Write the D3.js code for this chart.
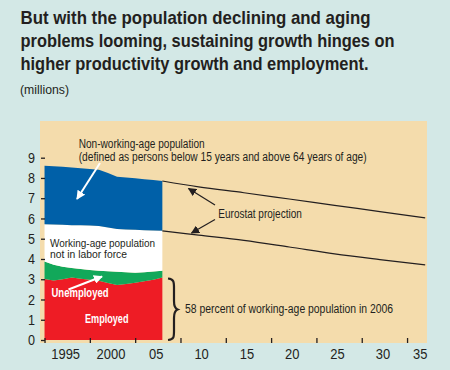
<!DOCTYPE html>
<html>
<head>
<meta charset="utf-8">
<script src="https://cdn.jsdelivr.net/npm/d3@7"></script>
<style>
  body { margin: 0; background: #d3e8e6; }
  svg { display: block; }
  text { font-family: "Liberation Sans", Arial, sans-serif; fill: #231f20; }
</style>
</head>
<body>
<script>
let w = 450;
let h = 370;

// history, millions
let years = [1993, 1994, 1995, 1996, 1997, 1998, 1999, 2000, 2001, 2002, 2003, 2004, 2005, 2006];
let employed   = [3.01, 2.94, 3.00, 3.08, 3.02, 2.97, 2.92, 2.82, 2.72, 2.76, 2.83, 2.90, 2.97, 3.08];
let unemployed = [0.86, 0.77, 0.62, 0.48, 0.48, 0.49, 0.50, 0.58, 0.65, 0.59, 0.49, 0.44, 0.41, 0.34];
let notInLabor = [1.84, 1.99, 2.07, 2.11, 2.16, 2.19, 2.21, 2.15, 2.11, 2.11, 2.12, 2.08, 2.02, 1.97];
let nonWorking = [2.89, 2.88, 2.86, 2.85, 2.82, 2.79, 2.77, 2.69, 2.58, 2.56, 2.54, 2.52, 2.50, 2.46];

// Eurostat projection
let projYears = [2006, 2010, 2015, 2020, 2025, 2030, 2035];
let projTotal = [7.85, 7.56, 7.27, 6.96, 6.65, 6.34, 6.03];
let projWorking = [5.39, 5.18, 4.92, 4.59, 4.25, 3.97, 3.71];

let yTicks = [0, 1, 2, 3, 4, 5, 6, 7, 8, 9];
let xTicks = [1993, 1998, 2003, 2008, 2013, 2018, 2023, 2028, 2033];
let xLabels = [1995, 2000, 2005, 2010, 2015, 2020, 2025, 2030, 2035];
let xLabelText = ["1995", "2000", "05", "10", "15", "20", "25", "30", "35"];

let keys = ["employed", "unemployed", "notInLabor", "nonWorking"];
let colors = ["#ee1c25", "#12a85a", "#ffffff", "#0060a8"];

let svg = d3.select("body")
            .append("svg")
            .attr("width", w)
            .attr("height", h);

// squeeze a text to the width it has in the print version
function squeeze(sel, len) {
  sel.attr("textLength", len).attr("lengthAdjust", "spacingAndGlyphs");
}

// title
let title = ["But with the population declining and aging",
             "problems looming, sustaining growth hinges on",
             "higher productivity growth and employment."];
let titleLen = [350, 374, 348];
svg.selectAll(".title")
   .data(title)
   .enter()
   .append("text")
   .attr("class", "title")
   .attr("x", 20.5)
   .attr("y", (d, i) => 24 + i * 23)
   .style("font-size", "18.5px")
   .style("font-weight", "bold")
   .text(d => d)
   .each(function(d, i) { squeeze(d3.select(this), titleLen[i]); });

svg.append("text")
   .attr("x", 20)
   .attr("y", 94)
   .style("font-size", "12px")
   .text("(millions)")
   .call(squeeze, 49);

// plot panel
let pLeft = 40, pRight = 427, pTop = 121, pBottom = 343;
svg.append("rect")
   .attr("x", pLeft)
   .attr("y", pTop)
   .attr("width", pRight - pLeft)
   .attr("height", pBottom - pTop)
   .attr("fill", "#f4dcac");

let x = d3.scaleLinear()
          .domain([1992.5, 2035.2])
          .range([pLeft, pRight]);

let y = d3.scaleLinear()
          .domain([0, 9])
          .range([340, 157.7]);

let table = years.map((yr, i) => ({
  year: yr,
  employed: employed[i],
  unemployed: unemployed[i],
  notInLabor: notInLabor[i],
  nonWorking: nonWorking[i]
}));

let series = d3.stack().keys(keys)(table);

let area = d3.area()
             .x(d => x(d.data.year))
             .y0(d => y(d[0]))
             .y1(d => y(d[1]));

svg.selectAll(".layer")
   .data(series)
   .enter()
   .append("path")
   .attr("class", "layer")
   .attr("d", area)
   .attr("fill", (d, i) => colors[i]);

// projection lines
let line = d3.line()
             .x(d => x(d[0]))
             .y(d => y(d[1]))
             .curve(d3.curveMonotoneX);

[projTotal, projWorking].forEach(vals => {
  svg.append("path")
     .attr("d", line(projYears.map((yr, i) => [yr, vals[i]])))
     .attr("fill", "none")
     .attr("stroke", "#231f20")
     .attr("stroke-width", 1.2);
});

// axes
let yAxis = d3.axisLeft(y)
              .tickValues(yTicks)
              .tickSize(-4)
              .tickPadding(6);
let gy = svg.append("g")
            .attr("transform", "translate(" + (pLeft + 1) + ",0)")
            .call(yAxis);
gy.select(".domain").remove();
gy.selectAll("line").attr("stroke", "#231f20").attr("stroke-width", 1.3);
gy.selectAll("text")
  .style("font-family", "'Liberation Sans', Arial, sans-serif")
  .style("font-size", "14.5px")
  .attr("fill", "#231f20")
  .attr("textLength", 7)
  .attr("lengthAdjust", "spacingAndGlyphs");

let xAxis = d3.axisBottom(x)
              .tickValues(xTicks)
              .tickSize(-5)
              .tickFormat("");
let gx = svg.append("g")
            .attr("transform", "translate(0," + pBottom + ")")
            .call(xAxis);
gx.select(".domain").remove();
gx.selectAll("line").attr("stroke", "#231f20").attr("stroke-width", 1.3);

let xLab = d3.axisBottom(x)
             .tickValues(xLabels)
             .tickSize(0)
             .tickPadding(6)
             .tickFormat((d, i) => xLabelText[i]);
let gl = svg.append("g")
            .attr("transform", "translate(2.5," + pBottom + ")")
            .call(xLab);
gl.select(".domain").remove();
gl.selectAll("text")
  .style("font-family", "'Liberation Sans', Arial, sans-serif")
  .style("font-size", "14.5px")
  .attr("fill", "#231f20")
  .attr("textLength", function() { return this.textContent.length * 7.2; })
  .attr("lengthAdjust", "spacingAndGlyphs");
gl.selectAll(".tick")
  .filter(d => d === 2035)
  .select("text")
  .attr("text-anchor", "end")
  .attr("x", pRight - x(2035) - 2.5);

// arrow markers
let defs = svg.append("defs");
[["white", "#ffffff"], ["black", "#231f20"]].forEach(m => {
  defs.append("marker")
      .attr("id", "head-" + m[0])
      .attr("viewBox", "0 0 10 10")
      .attr("refX", 9)
      .attr("refY", 5)
      .attr("markerWidth", m[0] === "white" ? 4.5 : 7)
      .attr("markerHeight", m[0] === "white" ? 4.5 : 7)
      .attr("markerUnits", "strokeWidth")
      .attr("orient", "auto")
      .append("path")
      .attr("d", "M0,0L10,5L0,10z")
      .attr("fill", m[1]);
});

function arrow(x1, y1, x2, y2, col, sw) {
  svg.append("line")
     .attr("x1", x1).attr("y1", y1)
     .attr("x2", x2).attr("y2", y2)
     .attr("stroke", col === "white" ? "#ffffff" : "#231f20")
     .attr("stroke-width", sw)
     .attr("marker-end", "url(#head-" + col + ")");
}

arrow(100, 163, 77, 199, "white", 2);
arrow(68.5, 289.5, 102, 276.5, "white", 2);
arrow(215, 205, 188.5, 188.5, "black", 1.2);
arrow(215, 219.5, 191.5, 233, "black", 1.2);

// annotations
function label(tx, ty, str, size, col, len, bold) {
  return svg.append("text")
            .attr("x", tx)
            .attr("y", ty)
            .style("font-size", size + "px")
            .style("font-weight", bold ? "bold" : "normal")
            .style("fill", col)
            .text(str)
            .call(squeeze, len);
}

label(78.7, 148, "Non-working-age population", 12.5, "#231f20", 126);
label(78.7, 161, "(defined as persons below 15 years and above 64 years of age)", 12.5, "#231f20", 288);
label(50, 246.5, "Working-age population", 11.5, "#231f20", 105);
label(50, 257.5, "not in labor force", 11.5, "#231f20", 77);
label(51.5, 296.5, "Unemployed", 12.5, "#ffffff", 57, true);
label(85, 322.5, "Employed", 12.5, "#ffffff", 43.5, true);
label(218.3, 217.5, "Eurostat projection", 12.5, "#231f20", 83.5);
label(185, 312.5, "58 percent of working-age population in 2006", 12, "#231f20", 208);

// brace
svg.append("path")
   .attr("d", "M168,278.5 C174,279 174,282 174,288 L174,301 C174,306 175,308.5 177.5,309.5 C175,310.5 174,313 174,318 L174,331 C174,337 174,339.5 168,340")
   .attr("fill", "none")
   .attr("stroke", "#231f20")
   .attr("stroke-width", 2.2);
</script>
</body>
</html>
